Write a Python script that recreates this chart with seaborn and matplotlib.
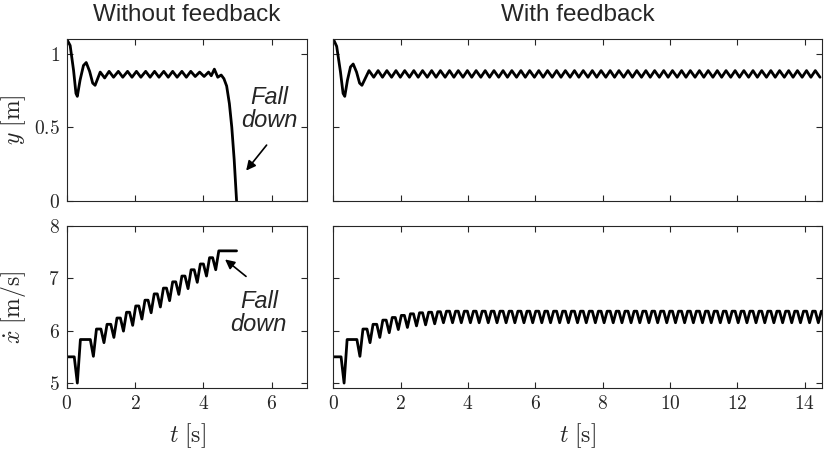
import numpy as np
import pandas as pd
import matplotlib
matplotlib.use("Agg")
import matplotlib.pyplot as plt
from matplotlib.ticker import FuncFormatter
import seaborn as sns

# --- data ---
# y without feedback: turning points (t, y)
y_nf_t = [0.00, 0.10, 0.20, 0.27, 0.31, 0.39, 0.49, 0.57, 0.67, 0.76, 0.83,
          0.98, 1.11, 1.24, 1.37, 1.51, 1.64, 1.78, 1.91, 2.04, 2.17,
          2.31, 2.44, 2.57, 2.70, 2.84, 2.97, 3.10, 3.23, 3.37, 3.50, 3.63, 3.76, 3.89, 4.02,
          4.15, 4.23, 4.32, 4.42, 4.52, 4.60, 4.68, 4.76, 4.83, 4.90, 4.97]
y_nf_v = [1.10, 1.056, 0.887, 0.73, 0.71, 0.82, 0.92, 0.94, 0.88, 0.80, 0.785,
          0.875, 0.835, 0.88, 0.84, 0.88, 0.84, 0.88, 0.84, 0.88, 0.84,
          0.88, 0.84, 0.88, 0.84, 0.88, 0.84, 0.88, 0.84, 0.88, 0.84, 0.88, 0.845, 0.875, 0.845,
          0.875, 0.85, 0.895, 0.84, 0.855, 0.83, 0.78, 0.66, 0.50, 0.28, 0.00]

# y with feedback: transient, then peaks / troughs at a steady level
y_fb_head_t = [0.00, 0.10, 0.21, 0.29, 0.34, 0.42, 0.51, 0.59, 0.69, 0.78, 0.85]
y_fb_head_v = [1.10, 1.05, 0.88, 0.73, 0.71, 0.82, 0.91, 0.93, 0.875, 0.80, 0.785]
y_fb_peak_t = [1.06, 1.33, 1.59, 1.86, 2.12, 2.39, 2.65, 2.92, 3.18, 3.45, 3.71, 3.98, 4.24,
               4.51, 4.77, 5.04, 5.30, 5.57, 5.83, 6.10, 6.36, 6.63, 6.89, 7.16, 7.42, 7.69,
               7.95, 8.22, 8.48, 8.75, 9.01, 9.28, 9.54, 9.81, 10.07, 10.34, 10.60, 10.87,
               11.13, 11.40, 11.66, 11.93, 12.19, 12.46, 12.72, 12.99, 13.25, 13.52, 13.78,
               14.05, 14.31]
y_fb_trough_t = [1.20, 1.46, 1.73, 1.99, 2.26, 2.52, 2.79, 3.05, 3.32, 3.58, 3.85, 4.11, 4.38,
                 4.64, 4.91, 5.17, 5.44, 5.70, 5.97, 6.23, 6.50, 6.76, 7.03, 7.29, 7.56, 7.82,
                 8.09, 8.35, 8.62, 8.88, 9.15, 9.41, 9.68, 9.94, 10.21, 10.47, 10.74, 11.00,
                 11.27, 11.53, 11.80, 12.06, 12.33, 12.59, 12.86, 13.12, 13.39, 13.65, 13.92,
                 14.18, 14.45]
y_fb_peak = 0.885
y_fb_trough = 0.84

# x-dot without feedback: dips and the plateau after each dip
xd_nf_start = 5.5
xd_nf_dip_t = [0.31, 0.78, 1.09, 1.38, 1.66, 1.93, 2.20, 2.47, 2.74, 3.01, 3.28, 3.55, 3.82,
               4.09, 4.36]
xd_nf_dip_v = [5.00, 5.51, 5.77, 5.87, 5.99, 6.10, 6.22, 6.34, 6.45, 6.57, 6.69, 6.80, 6.92,
               7.04, 7.16]
xd_nf_top_v = [5.83, 6.03, 6.12, 6.24, 6.35, 6.47, 6.58, 6.70, 6.81, 6.93, 7.04, 7.16, 7.27,
               7.39, 7.52]
xd_nf_end = 4.97

# x-dot with feedback
xd_fb_start = 5.5
xd_fb_dip_t = [0.32, 0.79, 1.09, 1.38, 1.66, 1.93, 2.20, 2.47, 2.74, 3.01, 3.27, 3.54, 3.80,
               4.07, 4.33, 4.60, 4.86, 5.13, 5.39, 5.66, 5.92, 6.19, 6.45, 6.72, 6.98, 7.25,
               7.51, 7.78, 8.04, 8.31, 8.57, 8.84, 9.10, 9.37, 9.63, 9.90, 10.16, 10.43, 10.69,
               10.96, 11.22, 11.49, 11.75, 12.02, 12.28, 12.55, 12.81, 13.08, 13.34, 13.61,
               13.87, 14.14, 14.40]
xd_fb_dip_v = [5.00, 5.51, 5.77, 5.87, 5.96, 6.02, 6.06, 6.09, 6.11, 6.13]
xd_fb_top_v = [5.83, 6.03, 6.12, 6.20, 6.25, 6.29, 6.32, 6.34, 6.35, 6.36]
xd_fb_dip_ss = 6.15
xd_fb_top_ss = 6.37
xd_fb_end = 14.5

LINE = "black"
AX_COL = "#262626"


def wave(head_t, head_v, peak_t, trough_t, peak, trough):
    df = pd.DataFrame({
        "t": list(head_t) + list(peak_t) + list(trough_t),
        "v": list(head_v) + [peak] * len(peak_t) + [trough] * len(trough_t),
    })
    return df.sort_values("t")


def teeth(start_v, dip_t, dip_v, top_v, t_end, rise=0.09, fall=0.09):
    t = [0.0, dip_t[0] - fall]
    v = [start_v, start_v]
    for i in range(len(dip_t)):
        t += [dip_t[i], dip_t[i] + rise]
        v += [dip_v[i], top_v[i]]
        nxt = dip_t[i + 1] - fall if i + 1 < len(dip_t) else t_end
        t.append(nxt)
        v.append(top_v[i])
    return pd.DataFrame({"t": t, "v": v})


sns.set_style("ticks")
plt.rcParams["font.family"] = ["Liberation Sans", "DejaVu Sans"]
plt.rcParams["mathtext.fontset"] = "cm"

fig = plt.figure(figsize=(8.31, 4.51), dpi=100)
ax_tl = fig.add_axes([0.0803, 0.555, 0.2895, 0.3585])
ax_tr = fig.add_axes([0.4011, 0.555, 0.5877, 0.3585])
ax_bl = fig.add_axes([0.0803, 0.139, 0.2895, 0.3606])
ax_br = fig.add_axes([0.4011, 0.139, 0.5877, 0.3606])

df_y_nf = pd.DataFrame({"t": y_nf_t, "v": y_nf_v})
df_y_fb = wave(y_fb_head_t, y_fb_head_v, y_fb_peak_t, y_fb_trough_t, y_fb_peak, y_fb_trough)
df_xd_nf = teeth(xd_nf_start, xd_nf_dip_t, xd_nf_dip_v, xd_nf_top_v, xd_nf_end)
n_ss = len(xd_fb_dip_t) - len(xd_fb_dip_v)
df_xd_fb = teeth(xd_fb_start, xd_fb_dip_t, xd_fb_dip_v + [xd_fb_dip_ss] * n_ss,
                 xd_fb_top_v + [xd_fb_top_ss] * n_ss, xd_fb_end)

for ax, df in [(ax_tl, df_y_nf), (ax_tr, df_y_fb), (ax_bl, df_xd_nf), (ax_br, df_xd_fb)]:
    sns.lineplot(data=df, x="t", y="v", ax=ax, color=LINE, linewidth=2.0,
                 sort=False, estimator=None)
    ax.set_xlabel("")
    ax.set_ylabel("")
    ax.tick_params(direction="in", top=True, right=True, length=4, width=0.8,
                   colors=AX_COL, labelsize=14, pad=5)
    for s in ax.spines.values():
        s.set_color(AX_COL)
        s.set_linewidth(0.8)
        s.set_visible(True)
    ax.xaxis.set_major_formatter(FuncFormatter(lambda v, p: f"${v:g}$"))
    ax.yaxis.set_major_formatter(FuncFormatter(lambda v, p: f"${v:g}$"))

# 축 범위
for ax in (ax_tl, ax_bl):
    ax.set_xlim(0, 7.04)
    ax.set_xticks([0, 2, 4, 6])
for ax in (ax_tr, ax_br):
    ax.set_xlim(0, 14.5)
    ax.set_xticks([0, 2, 4, 6, 8, 10, 12, 14])
for ax in (ax_tl, ax_tr):
    ax.set_ylim(0, 1.1)
    ax.set_yticks([0, 0.5, 1])
    ax.tick_params(labelbottom=False)
for ax in (ax_bl, ax_br):
    ax.set_ylim(4.9, 8)
    ax.set_yticks([5, 6, 7, 8])
for ax in (ax_tr, ax_br):
    ax.tick_params(labelleft=False)

# 제목 / 축 라벨
ax_tl.set_title("Without feedback", fontsize=17.5, pad=13)
ax_tr.set_title("With feedback", fontsize=17.5, pad=13)
ax_tl.set_ylabel(r"$y\ \mathrm{[m]}$", fontsize=17)
ax_bl.set_ylabel(r"$\dot{x}\ \mathrm{[m/s]}$", fontsize=17)
ax_tl.yaxis.set_label_coords(-0.16, 0.5)
ax_bl.yaxis.set_label_coords(-0.16, 0.5)
ax_bl.set_xlabel(r"$t\ \mathrm{[s]}$", fontsize=17)
ax_br.set_xlabel(r"$t\ \mathrm{[s]}$", fontsize=17)
ax_bl.xaxis.set_label_coords(0.5, -0.2)
ax_br.xaxis.set_label_coords(0.5, -0.2)

# Fall down 주석
ax_tl.text(5.92, 0.627, "Fall\ndown", ha="center", va="center", style="italic",
           fontsize=17, linespacing=1.0)
ax_tl.annotate("", xy=(5.20, 0.19), xytext=(5.90, 0.393),
               arrowprops=dict(arrowstyle="-|>", color="black", lw=1.2, mutation_scale=14))
ax_bl.text(5.62, 6.33, "Fall\ndown", ha="center", va="center", style="italic",
           fontsize=17, linespacing=1.0)
ax_bl.annotate("", xy=(4.57, 7.39), xytext=(5.31, 7.00),
               arrowprops=dict(arrowstyle="-|>", color="black", lw=1.2, mutation_scale=14))

fig.savefig("out.png", dpi=100)
